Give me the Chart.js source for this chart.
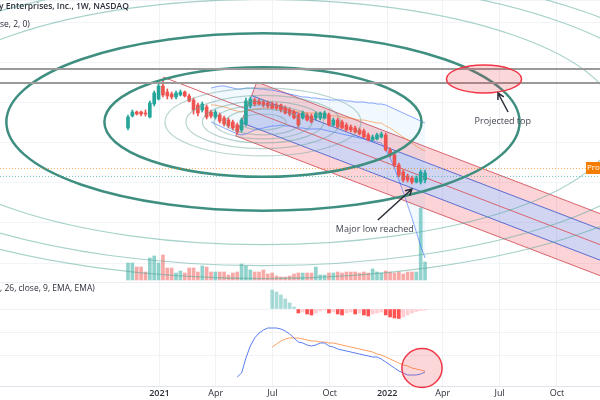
<!DOCTYPE html>
<html>
<head>
<meta charset="utf-8">
<script src="https://cdn.jsdelivr.net/npm/chart.js@4.4.1/dist/chart.umd.min.js"></script>
<style>
  html, body { margin: 0; padding: 0; background: #ffffff; }
  #wrap { width: 600px; height: 400px; }
</style>
</head>
<body>
<div id="wrap"><canvas id="chart" width="600" height="400"></canvas></div>
<script>
// Weekly candles, x = weeks from 1 Jan 2021
const firstWeek = -7.2;

const opens = [25.5, 26.7, 27.1, 27.1, 27.0, 26.6, 27.9, 28.4, 29.7, 29.1,
    28.9, 28.6, 28.8, 29.1, 28.7, 28.3, 27.8, 27.3, 27.6, 27.1,
    26.6, 26.8, 26.5, 26.3, 26.1, 25.8, 25.3, 25.9, 27.7, 28.3,
    28.2, 28.1, 28.0, 27.9, 27.8, 27.8, 27.5, 27.3, 27.1, 26.8,
    26.5, 26.8, 26.7, 26.5, 26.5, 26.5, 26.8, 25.8, 26.3, 26.1,
    25.8, 25.6, 25.5, 25.3, 25.2, 24.8, 24.3, 24.4, 24.6, 24.8,
    23.3, 22.8, 21.8, 21.1, 20.7, 20.5, 20.1, 20.1, 20.3];
const highs = [26.8, 27.3, 27.2, 27.2, 27.3, 28.2, 29.2, 30.1, 30.3, 29.4,
    29.1, 29.2, 29.3, 29.2, 28.9, 28.5, 28.0, 28.1, 27.8, 27.3,
    27.3, 27.0, 26.7, 26.5, 26.3, 26.0, 26.5, 28.5, 28.6, 28.5,
    28.4, 28.3, 28.2, 28.1, 28.0, 27.9, 27.7, 27.5, 27.3, 27.0,
    27.2, 27.0, 26.9, 27.1, 27.1, 27.2, 27.0, 26.5, 26.5, 26.3,
    26.0, 25.8, 25.7, 25.5, 25.4, 25.0, 24.8, 25.0, 25.1, 25.0,
    23.5, 23.0, 22.0, 21.3, 20.9, 20.7, 20.7, 21.3, 21.3];
const lows = [25.3, 26.6, 26.8, 26.7, 26.7, 26.5, 27.7, 28.3, 28.6, 28.4,
    28.4, 28.4, 28.7, 28.6, 28.1, 26.9, 26.7, 27.1, 26.4, 26.5,
    26.4, 26.0, 25.7, 25.5, 25.3, 24.9, 25.1, 25.7, 27.5, 27.7,
    27.8, 27.6, 27.5, 27.4, 27.3, 27.1, 26.9, 26.7, 26.4, 25.6,
    26.4, 26.2, 26.0, 26.3, 26.3, 26.4, 25.7, 25.7, 25.5, 25.4,
    25.2, 25.1, 25.0, 24.8, 24.5, 24.2, 24.2, 24.3, 24.5, 23.2,
    22.6, 21.6, 20.6, 20.1, 20.1, 19.9, 20.0, 19.9, 20.0];
const closes = [26.6, 27.1, 26.9, 26.9, 26.9, 28.0, 29.0, 29.7, 28.8, 28.7,
    28.6, 29.0, 29.1, 28.7, 28.2, 27.3, 27.0, 27.9, 26.6, 26.7,
    27.1, 26.2, 25.9, 25.7, 25.5, 25.1, 26.3, 28.2, 28.4, 27.9,
    27.9, 27.8, 27.7, 27.5, 27.5, 27.3, 27.0, 26.9, 26.5, 25.8,
    27.0, 26.3, 26.1, 26.9, 27.0, 27.0, 25.8, 26.3, 25.6, 25.5,
    25.3, 25.3, 25.1, 24.9, 24.6, 24.3, 24.6, 24.8, 24.9, 23.3,
    22.8, 21.8, 20.8, 20.3, 20.3, 20.1, 20.5, 21.1, 21.0];
// volume, millions
const volumes = [1.7, 1.7, 1.3, 1.3, 0.8, 2.2, 2.4, 1.7, 2.5, 1.2,
    1.2, 0.7, 0.9, 0.7, 1.2, 1.2, 0.8, 1.4, 1.3, 0.8,
    0.8, 0.8, 0.8, 0.5, 0.7, 0.8, 1.6, 1.4, 1.0, 0.8,
    0.8, 1.0, 0.6, 0.7, 0.4, 0.3, 0.3, 0.4, 0.6, 0.7,
    0.7, 0.7, 0.7, 1.3, 0.5, 0.5, 0.7, 0.7, 0.8, 0.7,
    0.8, 0.8, 0.8, 0.7, 0.8, 0.7, 1.1, 0.8, 0.7, 0.9,
    0.8, 0.7, 0.8, 0.6, 0.8, 0.8, 0.8, 7.2, 1.8];

// Bollinger bands (20, close, 2) from candle 19
const bbStart = 19;
const bbUpper = [29.5, 29.6, 29.7, 29.7, 29.6, 29.5, 29.4, 29.4, 29.5, 29.5,
    29.5, 29.4, 29.4, 29.3, 29.3, 29.2, 29.1, 29.0, 28.9, 28.8,
    28.7, 28.6, 28.6, 28.5, 28.5, 28.4, 28.4, 28.3, 28.3, 28.3,
    28.3, 28.2, 28.2, 28.1, 28.1, 28.1, 28.0, 28.0, 27.9, 27.9,
    27.8, 27.6, 27.4, 27.2, 27.0, 26.8, 26.6, 26.4, 26.2, 26.0];
const bbBasis = [27.8, 27.8, 27.7, 27.6, 27.5, 27.3, 27.2, 27.1, 27.2, 27.3,
    27.4, 27.4, 27.5, 27.5, 27.5, 27.5, 27.5, 27.4, 27.3, 27.2,
    27.1, 27.1, 27.0, 27.0, 27.0, 26.9, 26.9, 26.8, 26.7, 26.7,
    26.6, 26.5, 26.5, 26.4, 26.3, 26.3, 26.2, 26.1, 26.0, 26.0,
    25.7, 25.5, 25.2, 24.9, 24.6, 24.3, 24.0, 23.7, 23.4, 23.2];
const bbLower = [26.1, 25.9, 25.7, 25.5, 25.3, 25.1, 24.9, 24.8, 24.9, 25.1,
    25.3, 25.4, 25.5, 25.6, 25.7, 25.7, 25.8, 25.7, 25.7, 25.6,
    25.5, 25.5, 25.4, 25.4, 25.4, 25.4, 25.3, 25.2, 25.1, 25.0,
    24.9, 24.8, 24.7, 24.6, 24.5, 24.4, 24.3, 24.2, 24.1, 24.0,
    23.3, 22.5, 21.5, 20.3, 19.1, 17.8, 16.5, 15.1, 13.7, 12.5];

// MACD (12, 26, close, 9)
const macdStart = 25;
const macdLine = [-1.36, -1.28, -0.98, -0.74, -0.58, -0.48, -0.42, -0.38, -0.38, -0.38,
    -0.40, -0.44, -0.50, -0.58, -0.66, -0.68, -0.72, -0.74, -0.72, -0.68,
    -0.68, -0.74, -0.76, -0.80, -0.82, -0.84, -0.86, -0.88, -0.90, -0.92,
    -0.94, -0.96, -0.96, -1.00, -1.06, -1.12, -1.18, -1.24, -1.28, -1.32,
    -1.32, -1.32, -1.30, -1.26];
const signalStart = 33;
const signalLine = [-0.76, -0.70, -0.64, -0.60, -0.58, -0.58, -0.58, -0.60, -0.62, -0.64,
    -0.64, -0.66, -0.66, -0.68, -0.68, -0.70, -0.72, -0.74, -0.76, -0.78,
    -0.80, -0.82, -0.84, -0.86, -0.90, -0.92, -0.96, -1.00, -1.04, -1.08,
    -1.12, -1.14, -1.18, -1.20, -1.22, -1.24];
const histogram = [0.38, 0.34, 0.28, 0.20, 0.12, 0.04, -0.08, -0.06, -0.10, -0.12,
    -0.08, -0.04, -0.02, -0.08, -0.06, -0.10, -0.12, -0.08, -0.06, -0.10,
    -0.08, -0.12, -0.14, -0.10, -0.08, -0.06, -0.12, -0.16, -0.18, -0.19,
    -0.16, -0.12, -0.08, -0.05, -0.03, -0.02];

// Axis ticks
const tickWeeks = [0, 12.86, 25.86, 39.0, 52.14, 64.86, 77.86, 91.0];
const tickLabels = ['2021', 'Apr', 'Jul', 'Oct', '2022', 'Apr', 'Jul', 'Oct'];

// Drawings (week, price)
const hLines = [31.4, 30.0];
const lastPriceLines = [21.5, 20.7];
const fibCenter = { w: 23.7, p: 26.1 };
const fibRadius = { w: 22.44, p: 3.39 };
const fibLevels = [0.236, 0.382, 0.5, 0.618, 0.786, 1, 1.618, 2.618, 3.618, 4.236, 4.618];
const fibThick = [1.618, 2.618];
const forkHandle = { w: 0.8, p: 30.6 };
const forkTop = { w: 22.3, p: 30.1 };
const forkBottom = { w: 17.5, p: 24.7 };
const topMarker = { w: 74.3, p: 30.4, rw: 8.6, rp: 1.4 };
const macdMarker = { w: 60.1, m: -1.18, rw: 4.6, rm: 0.39 };
const topArrow = [{ w: 79.8, p: 27.1 }, { w: 77.5, p: 29.0 }];
const lowArrow = [{ w: 50.0, p: 16.3 }, { w: 57.8, p: 19.4 }];
const topText = { w: 78.6, p: 26.2, text: 'Projected top' };
const lowText = { w: 49.3, p: 15.4, text: 'Major low reached' };

const UP = '#26a69a';
const DOWN = '#ef5350';
const weekOf = i => firstWeek + i;
const candleColors = closes.map((c, i) => c >= opens[i] ? UP : DOWN);

function series(start, values) {
    return values.map((v, k) => ({ x: weekOf(start + k), y: v }));
}

function clipMainPane(chart) {
    const { ctx, chartArea, scales } = chart;
    const paneBottom = scales.yVol.getPixelForValue(-0.3);
    ctx.beginPath();
    ctx.rect(chartArea.left, chartArea.top, chartArea.width, paneBottom - chartArea.top);
    ctx.clip();
    return paneBottom;
}

const drawings = {
    id: 'drawings',
    beforeDatasetsDraw(chart) {
        const { ctx, chartArea, scales } = chart;
        const x = scales.x, y = scales.yPrice;
        ctx.save();
        const paneBottom = clipMainPane(chart);
        // pane separator
        ctx.strokeStyle = '#eceef2';
        ctx.lineWidth = 1;
        ctx.beginPath();
        ctx.moveTo(chartArea.left, paneBottom - 0.5);
        ctx.lineTo(chartArea.right, paneBottom - 0.5);
        ctx.stroke();

        // pitchfork
        const px = pt => ({ x: x.getPixelForValue(pt.w), y: y.getPixelForValue(pt.p) });
        const h = px(forkHandle), a = px(forkTop), b = px(forkBottom);
        const mid = { x: (a.x + b.x) / 2, y: (a.y + b.y) / 2 };
        const d = { x: (mid.x - h.x) * 20, y: (mid.y - h.y) * 20 };
        const steps = [0, 0.25, 0.5, 0.75, 1];
        const starts = steps.map(t => ({ x: a.x + (b.x - a.x) * t, y: a.y + (b.y - a.y) * t }));
        const fills = ['rgba(242,54,69,0.22)', 'rgba(63,81,200,0.24)', 'rgba(63,81,200,0.24)', 'rgba(242,54,69,0.22)'];
        for (let k = 0; k < 4; k++) {
            const s0 = starts[k], s1 = starts[k + 1];
            ctx.fillStyle = fills[k];
            ctx.beginPath();
            ctx.moveTo(s0.x, s0.y);
            ctx.lineTo(s0.x + d.x, s0.y + d.y);
            ctx.lineTo(s1.x + d.x, s1.y + d.y);
            ctx.lineTo(s1.x, s1.y);
            ctx.closePath();
            ctx.fill();
        }
        const lineColors = ['#d9646c', '#5b6bd0', '#d9646c', '#5b6bd0', '#d9646c'];
        ctx.lineWidth = 1;
        starts.forEach((s, k) => {
            ctx.strokeStyle = lineColors[k];
            ctx.beginPath();
            ctx.moveTo(s.x, s.y);
            ctx.lineTo(s.x + d.x, s.y + d.y);
            ctx.stroke();
        });
        ctx.strokeStyle = '#d9646c';
        ctx.beginPath();
        ctx.moveTo(h.x, h.y);
        ctx.lineTo(mid.x, mid.y);
        ctx.moveTo(a.x, a.y);
        ctx.lineTo(b.x, b.y);
        ctx.stroke();
        ctx.restore();
    },
    afterDatasetsDraw(chart) {
        const { ctx, chartArea, scales } = chart;
        const x = scales.x, y = scales.yPrice, m = scales.yMacd;
        ctx.save();
        clipMainPane(chart);

        // fib circles
        const cx = x.getPixelForValue(fibCenter.w), cy = y.getPixelForValue(fibCenter.p);
        const rx = x.getPixelForValue(fibCenter.w + fibRadius.w) - cx;
        const ry = cy - y.getPixelForValue(fibCenter.p + fibRadius.p);
        fibLevels.forEach(lv => {
            const thick = fibThick.includes(lv);
            ctx.strokeStyle = thick ? '#3f8f80' : (lv > 3 ? 'rgba(80,165,150,0.5)' : 'rgba(100,160,150,0.45)');
            ctx.lineWidth = thick ? 2.5 : 1.2;
            ctx.beginPath();
            ctx.ellipse(cx, cy, rx * lv, ry * lv, 0, 0, Math.PI * 2);
            ctx.stroke();
        });

        // horizontal lines
        ctx.strokeStyle = '#9a9a9a';
        ctx.lineWidth = 2;
        hLines.forEach(p => {
            const py = y.getPixelForValue(p);
            ctx.beginPath();
            ctx.moveTo(chartArea.left, py);
            ctx.lineTo(chartArea.right, py);
            ctx.stroke();
        });
        ctx.lineWidth = 1;
        ctx.setLineDash([1, 2]);
        ['rgba(245,124,0,0.6)', 'rgba(38,166,154,0.6)'].forEach((c, k) => {
            const py = Math.round(y.getPixelForValue(lastPriceLines[k])) + 0.5;
            ctx.strokeStyle = c;
            ctx.beginPath();
            ctx.moveTo(chartArea.left, py);
            ctx.lineTo(chartArea.right, py);
            ctx.stroke();
        });
        ctx.setLineDash([]);

        // projected top marker
        ctx.fillStyle = 'rgba(242,54,69,0.2)';
        ctx.strokeStyle = '#f23645';
        ctx.lineWidth = 1.5;
        const tx = x.getPixelForValue(topMarker.w), ty = y.getPixelForValue(topMarker.p);
        ctx.beginPath();
        ctx.ellipse(tx, ty, x.getPixelForValue(topMarker.w + topMarker.rw) - tx,
            ty - y.getPixelForValue(topMarker.p + topMarker.rp), 0, 0, Math.PI * 2);
        ctx.fill();
        ctx.stroke();

        // arrows
        const arrow = (p0, p1) => {
            const x0 = x.getPixelForValue(p0.w), y0 = y.getPixelForValue(p0.p);
            const x1 = x.getPixelForValue(p1.w), y1 = y.getPixelForValue(p1.p);
            const ang = Math.atan2(y1 - y0, x1 - x0);
            ctx.strokeStyle = '#2a2e39';
            ctx.lineWidth = 1.5;
            ctx.beginPath();
            ctx.moveTo(x0, y0);
            ctx.lineTo(x1, y1);
            ctx.moveTo(x1 - 7 * Math.cos(ang - 0.5), y1 - 7 * Math.sin(ang - 0.5));
            ctx.lineTo(x1, y1);
            ctx.lineTo(x1 - 7 * Math.cos(ang + 0.5), y1 - 7 * Math.sin(ang + 0.5));
            ctx.stroke();
        };
        arrow(topArrow[0], topArrow[1]);
        arrow(lowArrow[0], lowArrow[1]);

        ctx.font = '9px "Open Sans", sans-serif';
        ctx.fillStyle = '#434651';
        ctx.textAlign = 'center';
        ctx.textBaseline = 'middle';
        [topText, lowText].forEach(t => ctx.fillText(t.text, x.getPixelForValue(t.w), y.getPixelForValue(t.p)));

        // price label at the right edge
        const ly = y.getPixelForValue(lastPriceLines[0]);
        ctx.fillStyle = '#f57c00';
        ctx.fillRect(chartArea.right - 14, ly - 6, 16, 12);
        ctx.fillStyle = '#ffffff';
        ctx.font = '8px "Open Sans", sans-serif';
        ctx.textAlign = 'left';
        ctx.fillText('Pro', chartArea.right - 13, ly);
        ctx.restore();

        // MACD marker
        ctx.save();
        const mx = x.getPixelForValue(macdMarker.w), my = m.getPixelForValue(macdMarker.m);
        ctx.fillStyle = 'rgba(242,54,69,0.2)';
        ctx.strokeStyle = '#f23645';
        ctx.lineWidth = 1.5;
        ctx.beginPath();
        ctx.ellipse(mx, my, x.getPixelForValue(macdMarker.w + macdMarker.rw) - mx,
            my - m.getPixelForValue(macdMarker.m + macdMarker.rm), 0, 0, Math.PI * 2);
        ctx.fill();
        ctx.stroke();

        // pane legends
        ctx.fillStyle = '#2a2e39';
        ctx.textAlign = 'left';
        ctx.textBaseline = 'middle';
        ctx.font = '600 8.5px "Open Sans", sans-serif';
        ctx.fillText('y Enterprises, Inc., 1W, NASDAQ', -1, 7);
        ctx.font = '8.5px "Open Sans", sans-serif';
        ctx.fillText('se, 2, 0)', 0, 25);
        ctx.fillText(', 26, close, 9, EMA, EMA)', 0, 289);
        ctx.restore();
    }
};

const candleIdx = opens.map((o, i) => i);

new Chart(document.getElementById('chart'), {
    type: 'bar',
    data: {
        datasets: [
            {
                type: 'bar', label: 'Volume', yAxisID: 'yVol', order: 10, grouped: false,
                data: volumes.map((v, i) => ({ x: weekOf(i), y: v })),
                backgroundColor: candleColors.map(c => c === UP ? 'rgba(38,166,154,0.5)' : 'rgba(239,83,80,0.5)'),
                barThickness: 3
            },
            {
                type: 'line', label: 'BB upper', yAxisID: 'yPrice', order: 9,
                data: series(bbStart, bbUpper), borderColor: 'rgba(41,98,255,0.55)',
                borderWidth: 1, pointRadius: 0, fill: false
            },
            {
                type: 'line', label: 'BB lower', yAxisID: 'yPrice', order: 9,
                data: series(bbStart, bbLower), borderColor: 'rgba(41,98,255,0.55)',
                borderWidth: 1, pointRadius: 0, fill: '-1', backgroundColor: 'rgba(33,150,243,0.06)'
            },
            {
                type: 'line', label: 'BB basis', yAxisID: 'yPrice', order: 8,
                data: series(bbStart, bbBasis), borderColor: 'rgba(255,109,0,0.5)',
                borderWidth: 1, pointRadius: 0, fill: false
            },
            {
                type: 'bar', label: 'Wicks', yAxisID: 'yPrice', order: 5, grouped: false,
                data: candleIdx.map(i => ({ x: weekOf(i), y: [lows[i], highs[i]] })),
                backgroundColor: candleColors, barThickness: 1
            },
            {
                type: 'bar', label: 'Bodies', yAxisID: 'yPrice', order: 4, grouped: false,
                data: candleIdx.map(i => ({ x: weekOf(i), y: [opens[i], closes[i]] })),
                backgroundColor: candleColors, barThickness: 3
            },
            {
                type: 'bar', label: 'Histogram', yAxisID: 'yMacd', order: 6, grouped: false,
                data: series(signalStart, histogram),
                backgroundColor: histogram.map((v, k) => {
                    const prev = k > 0 ? histogram[k - 1] : v + 0.01;
                    if (v >= 0) return v < prev ? 'rgba(38,166,154,0.4)' : UP;
                    return v < prev ? '#ff5252' : '#ffcdd2';
                }),
                barThickness: 3
            },
            {
                type: 'line', label: 'MACD', yAxisID: 'yMacd', order: 3,
                data: series(macdStart, macdLine), borderColor: '#5b7cf0',
                borderWidth: 1, pointRadius: 0
            },
            {
                type: 'line', label: 'Signal', yAxisID: 'yMacd', order: 3,
                data: series(signalStart, signalLine), borderColor: '#ff9e5e',
                borderWidth: 1, pointRadius: 0
            }
        ]
    },
    options: {
        responsive: false,
        animation: false,
        devicePixelRatio: 1,
        layout: { padding: 0 },
        plugins: { legend: { display: false }, tooltip: { enabled: false } },
        scales: {
            x: {
                type: 'linear', min: -36.5, max: 100.85, offset: false,
                grid: { color: '#f0f2f6', drawTicks: false, offset: false },
                border: { color: '#e0e3eb' },
                afterBuildTicks: scale => { scale.ticks = tickWeeks.map(v => ({ value: v })); },
                afterFit: scale => { scale.height = 14; },
                ticks: {
                    autoSkip: false, maxRotation: 0, padding: 2, color: '#2a2e39',
                    font: ctx => ({ family: '"Open Sans", sans-serif', size: 9,
                        weight: /^20/.test(tickLabels[ctx.index] || '') ? '600' : 'normal' }),
                    callback: (v, i) => tickLabels[i]
                }
            },
            yPrice: {
                type: 'linear', position: 'left', min: -0.3, max: 38.3,
                grid: {
                    drawTicks: false,
                    color: ctx => ctx.tick.value > 10.5 ? '#f3f4f7' : 'rgba(0,0,0,0)'
                },
                border: { display: false },
                ticks: { display: false, stepSize: 4 }
            },
            yVol: {
                type: 'linear', position: 'right', display: false, min: -10.6, max: 28.0
            },
            yMacd: {
                type: 'linear', position: 'right', min: -1.54, max: 6.18,
                grid: {
                    drawTicks: false,
                    color: ctx => ctx.tick.value <= 0.01 ? '#f0f2f6' : 'rgba(0,0,0,0)'
                },
                border: { display: false },
                ticks: { display: false, stepSize: 0.46 }
            }
        }
    },
    plugins: [drawings]
});
</script>
</body>
</html>
